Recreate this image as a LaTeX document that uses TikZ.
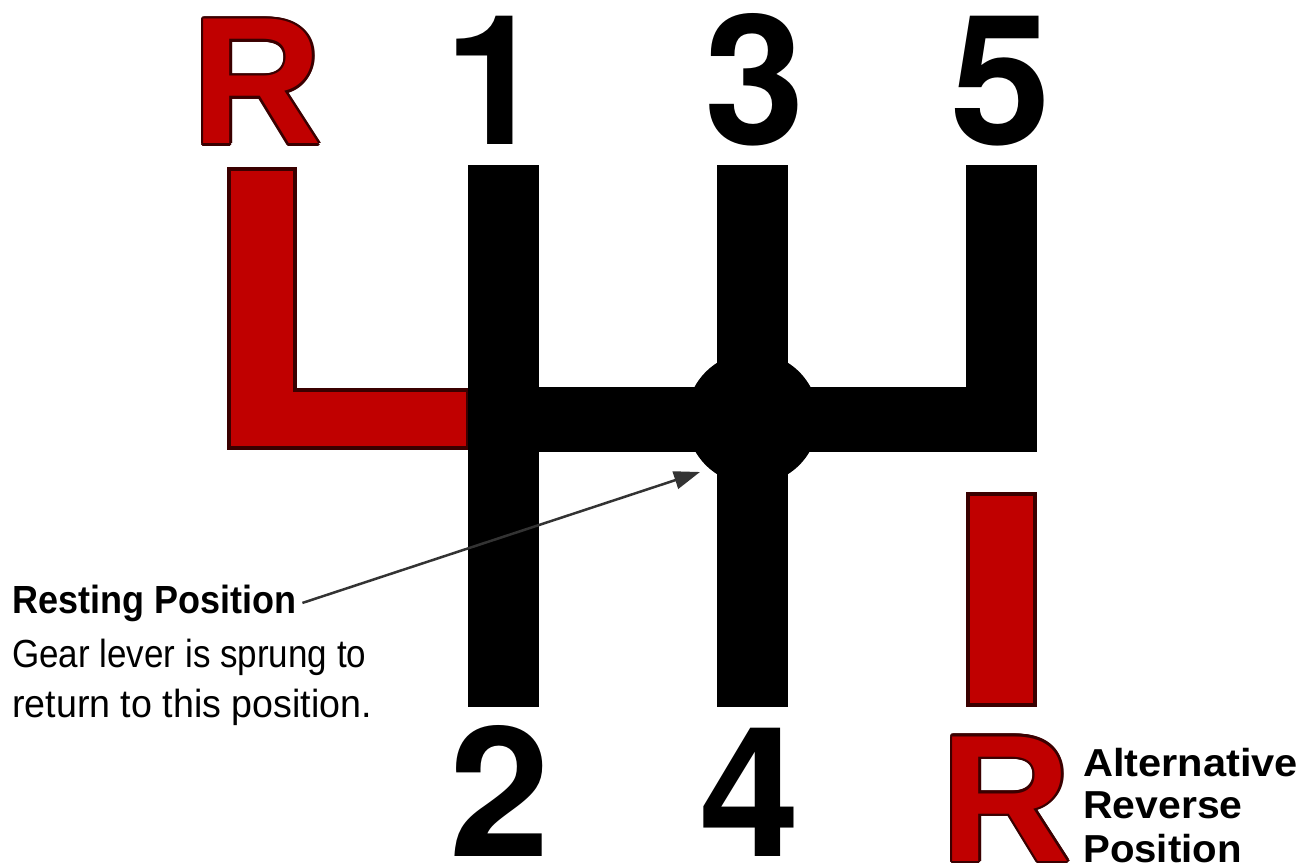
\documentclass[tikz,border=0pt]{standalone}
\usepackage{fontspec}
\usepackage{graphicx}
\setmainfont{Liberation Sans}
\newfontfamily\digitfont{TeX Gyre Heros}
\usetikzlibrary{arrows.meta}
\definecolor{gred}{HTML}{C00000}
\definecolor{gdark}{HTML}{3A0000}
\begin{document}
\begin{tikzpicture}[x=1pt,y=-1pt,
  barfill/.style={fill=black},
  redpart/.style={fill=gred,draw=gdark,line width=3.5pt},
  digit/.style={anchor=base,inner sep=0pt,font=\digitfont\fontsize{181}{181}\selectfont\bfseries},
  rdark/.style={anchor=base,inner sep=0pt,font=\fontsize{181}{181}\selectfont\bfseries,text=gdark},
  rred/.style={rdark,text=gred},
  note/.style={anchor=base west,inner sep=0pt,font=\fontsize{35}{35}\selectfont},
  notebold/.style={anchor=base west,inner sep=0pt,font=\fontsize{36}{36}\selectfont\bfseries},
  altlab/.style={anchor=base west,inner sep=0pt,font=\fontsize{39}{39}\selectfont\bfseries},
  pointer/.style={-{Triangle[length=26pt,width=18pt]},line width=2.5pt,draw=black!80}]
\useasboundingbox[fill=white] (0,0) rectangle (1313,866);

% red L (reverse)
\draw[redpart] (229,169) -- (295,169) -- (295,390) -- (468,390) -- (468,448) -- (229,448) -- cycle;
% black gate
\fill[barfill] (468,165) rectangle (539,707);
\fill[barfill] (717,165) rectangle (788,707);
\fill[barfill] (966,165) rectangle (1037,452);
\fill[barfill] (468,387) rectangle (1037,452);
\fill[barfill] (752.5,418.5) circle (66);
% alternative reverse bar
\draw[redpart] (968,494) rectangle (1035,705);

% gear numbers
\node[digit] (g1) at (495,145) {1};
\node[digit] (g3) at (754.5,145) {3};
\node[digit] (g5) at (1000.5,145) {5};
\node[digit] (g2) at (500,856) {2};
\node[digit] (g4) at (750,856) {4};

% top R with outline
\foreach \a in {0,30,...,330}
  \node[rdark,shift={(\a:2.5)}] (rt\a) at (257,144) {R};
\node[rred] (rtop) at (257,144) {R};
% bottom R with outline
\foreach \a in {0,30,...,330}
  \node[rdark,shift={(\a:2.5)}] (rb\a) at (1006,861) {R};
\node[rred] (rbot) at (1006,861) {R};

% labels
\node[notebold] (rest) at (12,613) {\scalebox{1}[1.09]{Resting Position}};
\node[note] (l2) at (12,667) {\scalebox{1}[1.12]{Gear lever is sprung to}};
\node[note] (l3) at (12,717) {\scalebox{1.075}[1.12]{return to this position.}};

\node[altlab] (a1) at (1083,776) {\scalebox{1.066}[1]{Alternative}};
\node[altlab] (a2) at (1083,818) {\scalebox{1.05}[1]{Reverse}};
\node[altlab] (a3) at (1083,862) {\scalebox{1.03}[1]{Position}};

\coordinate (tip) at (700,472);
\draw[pointer] ([xshift=6pt]rest.east) -- (tip);
\end{tikzpicture}
\end{document}
